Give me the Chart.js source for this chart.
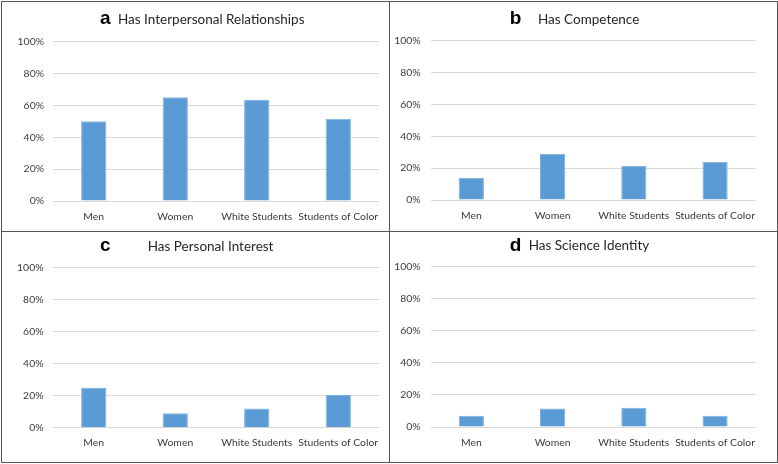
<!DOCTYPE html>
<html lang="en">
<head>
    <meta charset="UTF-8">
    <title>Science Identity Components</title>
    <script src="https://cdn.jsdelivr.net/npm/chart.js"></script>
    <style>
        body {
            margin: 0;
            background: #fff;
        }
        #wrap {
            position: relative;
            width: 778px;
            height: 464px;
        }
        canvas {
            position: absolute;
        }
        .line {
            position: absolute;
            background: #555;
        }
    </style>
</head>
<body>
    <div id="wrap">
        <canvas id="chartA" width="389" height="231" style="left:0;top:0"></canvas>
        <canvas id="chartB" width="389" height="231" style="left:389px;top:0"></canvas>
        <canvas id="chartC" width="389" height="233" style="left:0;top:231px"></canvas>
        <canvas id="chartD" width="389" height="233" style="left:389px;top:231px"></canvas>
        <!-- frame and dividers -->
        <div class="line" style="left:1px;top:1px;width:777px;height:1px"></div>
        <div class="line" style="left:1px;top:462px;width:777px;height:1px"></div>
        <div class="line" style="left:1px;top:1px;width:1px;height:462px"></div>
        <div class="line" style="left:777px;top:1px;width:1px;height:462px"></div>
        <div class="line" style="left:389px;top:1px;width:1px;height:462px"></div>
        <div class="line" style="left:1px;top:231px;width:777px;height:1px"></div>
    </div>

    <script>
        const categories = ['Men', 'Women', 'White Students', 'Students of Color'];
        const yTicks = [0, 20, 40, 60, 80, 100];

        // percent of students
        const relationships = [50, 65, 63.5, 51.5];
        const competence = [14, 29, 21.5, 24];
        const interest = [25, 9, 12, 20.5];
        const identity = [7, 11.5, 12, 7];

        const panelTitle = {
            id: 'panelTitle',
            afterDraw(chart, args, o) {
                const ctx = chart.ctx;
                ctx.save();
                ctx.textAlign = 'left';
                ctx.textBaseline = 'alphabetic';
                ctx.fillStyle = '#000';
                ctx.font = 'bold 19px "Liberation Sans"';
                ctx.fillText(o.letter, o.lx, o.ly);
                ctx.fillStyle = '#262626';
                ctx.font = '13.5px Lato';
                ctx.fillText(o.text, o.tx, o.ty);
                ctx.restore();
            }
        };

        function makePanel(id, values, p) {
            new Chart(document.getElementById(id), {
                type: 'bar',
                data: {
                    labels: categories,
                    datasets: [{
                        data: values,
                        backgroundColor: '#5b9bd5',
                        borderColor: '#7bb0e0',
                        borderWidth: 1,
                        categoryPercentage: 1,
                        barPercentage: 0.31
                    }]
                },
                options: {
                    responsive: false,
                    animation: false,
                    layout: { padding: { left: 0, top: p.top, right: p.right, bottom: 0 } },
                    plugins: {
                        legend: { display: false },
                        tooltip: { enabled: false },
                        panelTitle: p.title
                    },
                    scales: {
                        x: {
                            grid: { display: false },
                            border: { display: false },
                            ticks: {
                                color: '#3a3a3a',
                                font: { family: 'Lato', size: 10.4 },
                                padding: 1,
                                maxRotation: 0,
                                autoSkip: false
                            },
                            afterFit: s => { s.height = p.xh; }
                        },
                        y: {
                            min: 0,
                            max: 100,
                            afterBuildTicks: s => { s.ticks = yTicks.map(v => ({ value: v })); },
                            grid: { color: '#d9d9d9', drawTicks: false },
                            border: { display: false },
                            ticks: {
                                color: '#3a3a3a',
                                font: { family: 'Lato', size: 10.4 },
                                padding: p.ypad,
                                callback: v => v + '%'
                            },
                            afterFit: s => { s.width = p.yw; }
                        }
                    }
                },
                plugins: [panelTitle]
            });
        }

        makePanel('chartA', relationships, {
            top: 41.5, right: 10, xh: 30, yw: 53, ypad: 9,
            title: { letter: 'a', lx: 100, ly: 24, text: 'Has Interpersonal Relationships', tx: 118, ty: 24 }
        });
        makePanel('chartB', competence, {
            top: 40.7, right: 22.3, xh: 31, yw: 41.7, ypad: 10,
            title: { letter: 'b', lx: 120.7, ly: 24, text: 'Has Competence', tx: 149, ty: 23.5 }
        });
        makePanel('chartC', interest, {
            top: 36.7, right: 10, xh: 36.3, yw: 53, ypad: 9.5,
            title: { letter: 'c', lx: 100, ly: 20, text: 'Has Personal Interest', tx: 147.7, ty: 19.7 }
        });
        makePanel('chartD', identity, {
            top: 35.7, right: 22.3, xh: 37, yw: 41.7, ypad: 10,
            title: { letter: 'd', lx: 120.7, ly: 19.7, text: 'Has Science Identity', tx: 139.7, ty: 19.3 }
        });
    </script>
</body>
</html>
